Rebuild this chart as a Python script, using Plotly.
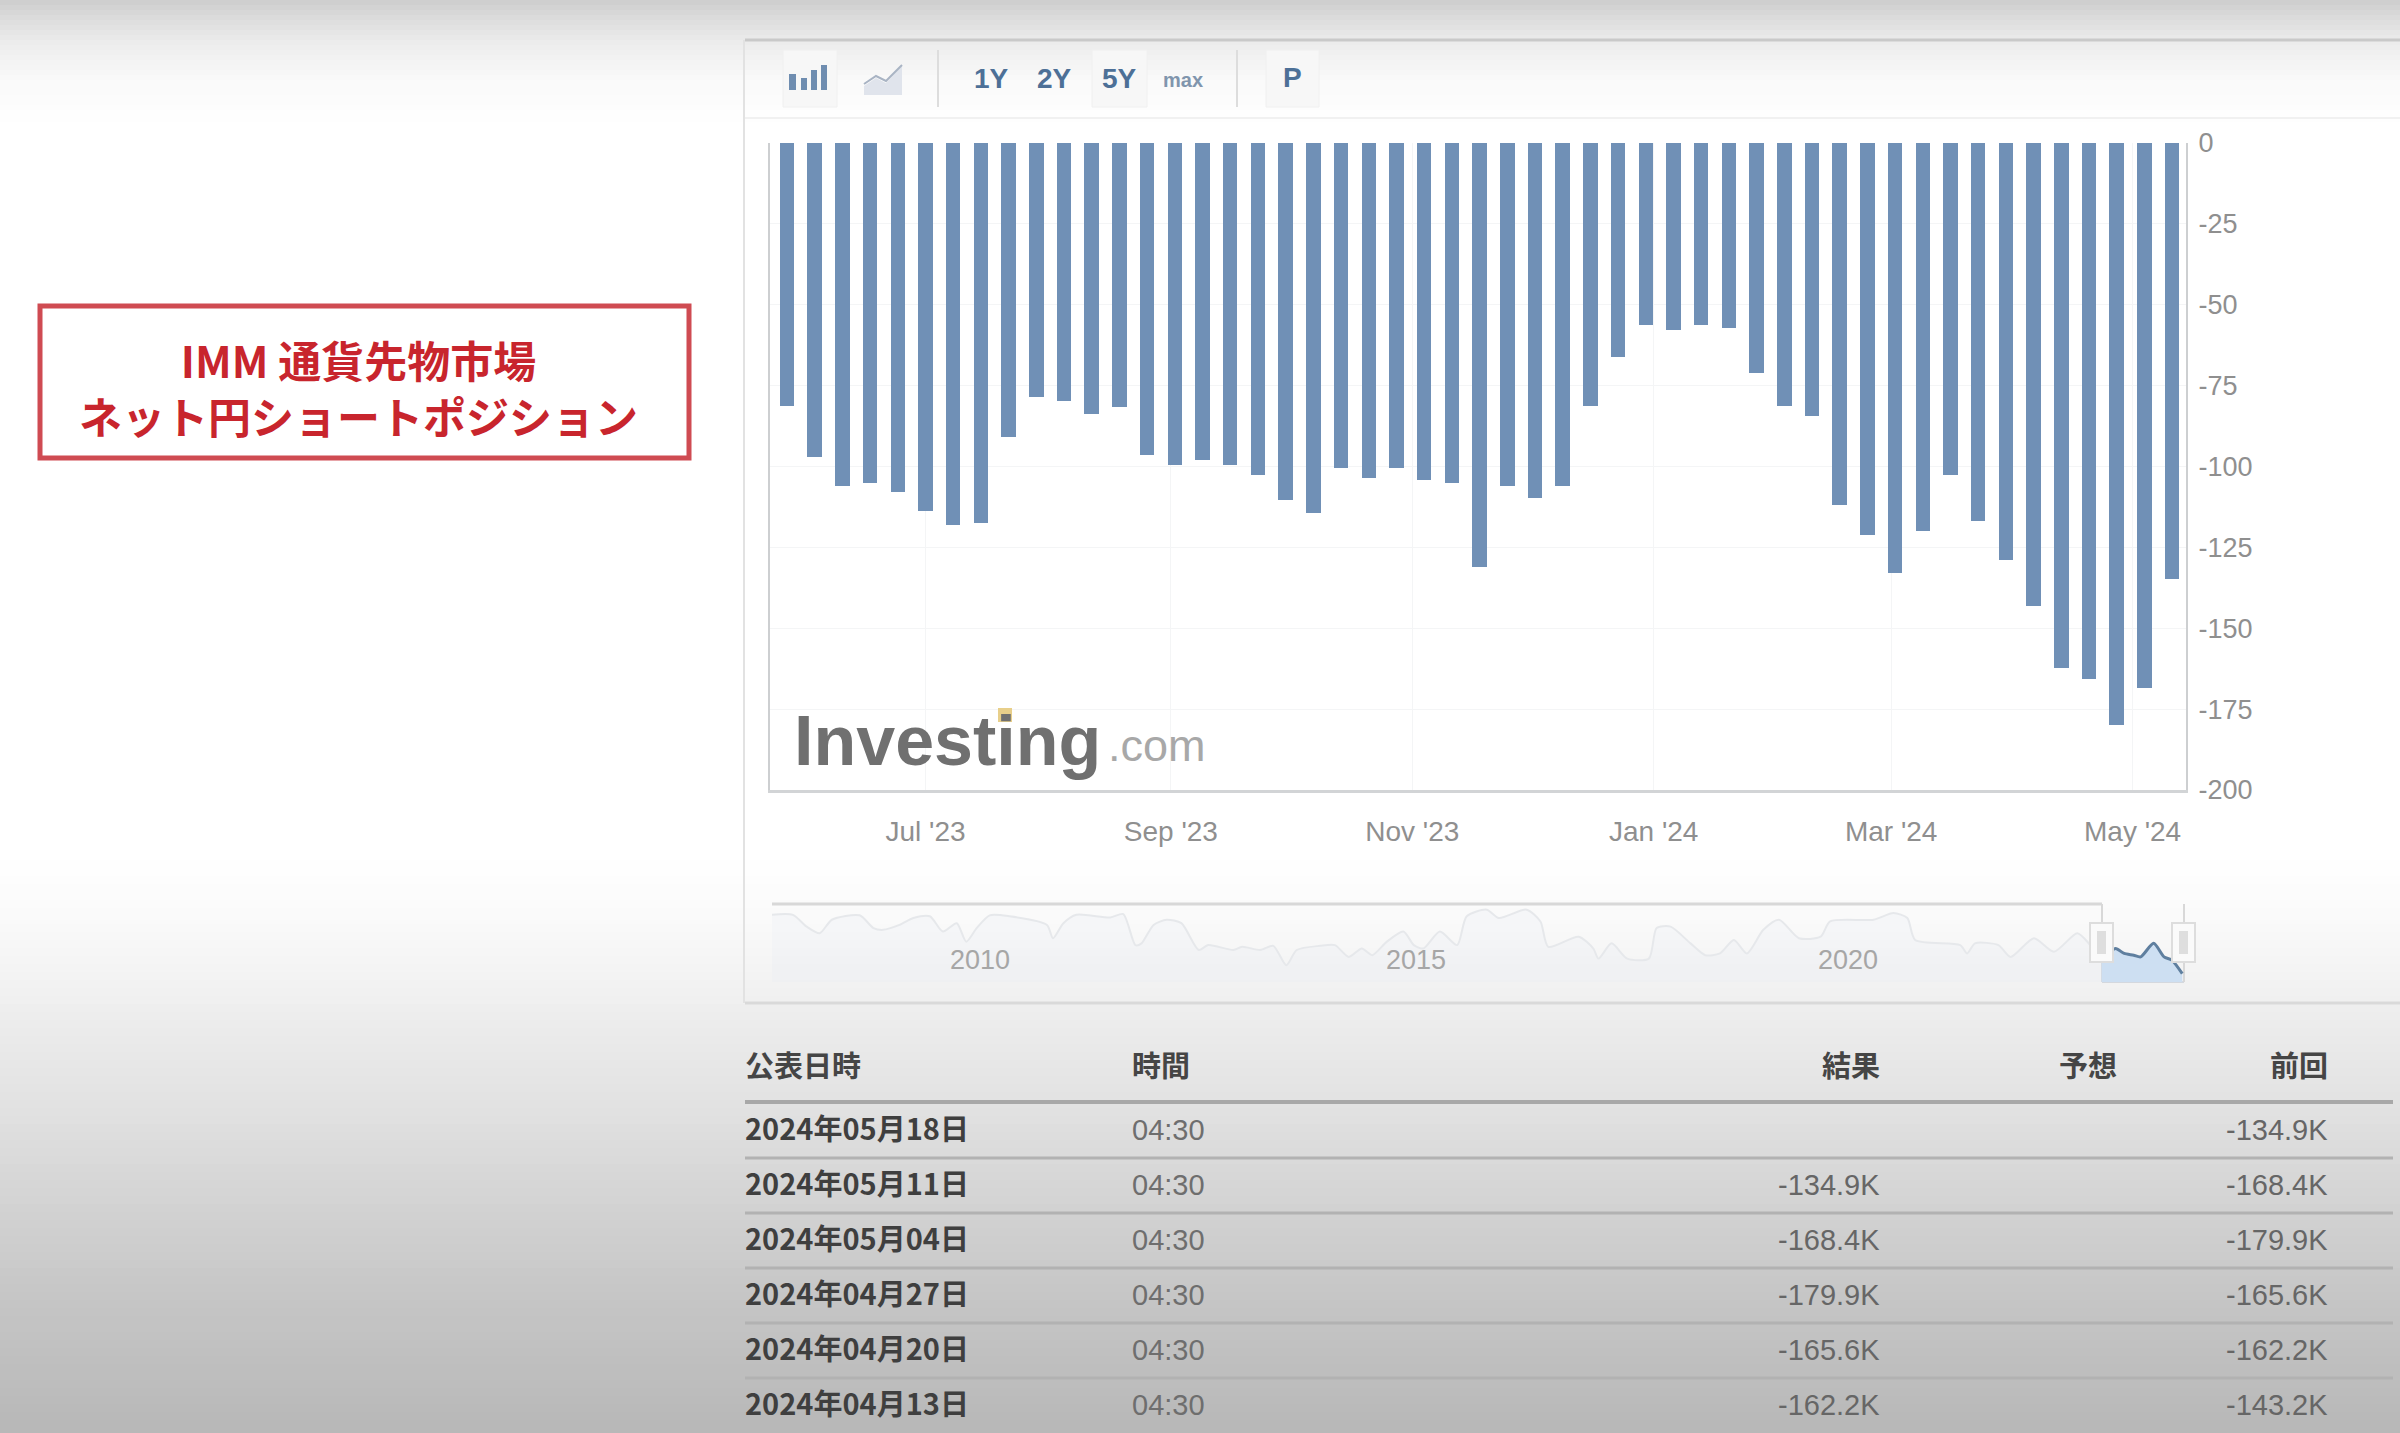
import numpy as np
import plotly.graph_objects as go

W, H = 2400, 1433

# ---------- data ----------
week_dates = [
    "2023-05-27", "2023-06-03", "2023-06-10", "2023-06-17", "2023-06-24", "2023-07-01", "2023-07-08",
    "2023-07-15", "2023-07-22", "2023-07-29", "2023-08-05", "2023-08-12", "2023-08-19", "2023-08-26",
    "2023-09-02", "2023-09-09", "2023-09-16", "2023-09-23", "2023-09-30", "2023-10-07", "2023-10-14",
    "2023-10-21", "2023-10-28", "2023-11-04", "2023-11-11", "2023-11-18", "2023-11-25", "2023-12-02",
    "2023-12-09", "2023-12-16", "2023-12-23", "2023-12-30", "2024-01-06", "2024-01-13", "2024-01-20",
    "2024-01-27", "2024-02-03", "2024-02-10", "2024-02-17", "2024-02-24", "2024-03-02", "2024-03-09",
    "2024-03-16", "2024-03-23", "2024-03-30", "2024-04-06", "2024-04-13", "2024-04-20", "2024-04-27",
    "2024-05-04", "2024-05-11",
]
net_yen_position = [
    -81.4, -97.1, -105.9, -105.0, -108.0, -113.6, -118.0, -117.5, -91.0, -78.4, -79.9, -83.7, -81.6,
    -96.4, -99.5, -98.0, -99.5, -102.6, -110.5, -114.5, -100.5, -103.6, -100.5, -104.3, -105.0, -131.0,
    -105.9, -109.8, -106.0, -81.2, -66.0, -56.4, -57.9, -56.4, -57.2, -71.1, -81.4, -84.5, -112.0,
    -121.3, -133.0, -119.8, -102.6, -116.7, -129.0, -143.2, -162.2, -165.6, -179.9, -168.4, -134.9,
]
y_ticks = [0, -25, -50, -75, -100, -125, -150, -175, -200]
y_tick_labels = ["0", "-25", "-50", "-75", "-100", "-125", "-150", "-175", "-200"]

nav_years = [
    2008.07, 2008.32, 2008.48, 2008.63, 2008.77, 2009.09, 2009.25, 2009.36, 2009.55, 2009.71, 2009.90,
    2010.05, 2010.21, 2010.32, 2010.44, 2010.59, 2010.82, 2011.25, 2011.32, 2011.44, 2011.59, 2011.98,
    2012.13, 2012.27, 2012.34, 2012.48, 2012.63, 2012.80, 2013.00, 2013.11, 2013.40, 2013.50, 2013.71,
    2013.86, 2014.01, 2014.13, 2014.40, 2014.57, 2014.73, 2014.88, 2015.00, 2015.17, 2015.36, 2015.48,
    2015.59, 2015.78, 2015.98, 2016.09, 2016.32, 2016.46, 2016.78, 2016.94, 2017.03, 2017.38, 2017.55,
    2017.61, 2017.76, 2017.94, 2018.19, 2018.28, 2018.44, 2018.67, 2018.84, 2019.01, 2019.17, 2019.32,
    2019.51, 2019.69, 2019.92, 2020.17, 2020.28, 2020.78, 2021.01, 2021.17, 2021.26, 2021.78, 2021.86,
    2021.95, 2022.22, 2022.36, 2022.63, 2022.86, 2023.13, 2023.28, 2023.41,
]
nav_values = [
    59, 59, 11, -16, 39, 57, 5, -2, 18, 46, 53,
    -9, 25, -50, 5, 57, 53, 18, -36, 25, 59, 48,
    62, -64, -57, 18, 39, 25, -84, -64, -84, -71, -84,
    -67, -146, -84, -67, -64, -112, -78, -105, -50, -9, -64,
    -78, -9, -64, 53, 80, 46, 80, 32, -71, -30, -78,
    -119, -57, -119, -119, 5, 11, -57, -105, -98, -43, -98,
    -2, 39, -36, -30, 32, 39, 66, 46, -43, -64, -98,
    -57, -64, -112, -36, -91, -16, -64, -119,
]
sel_years = [2023.41, 2023.57, 2023.67, 2023.78, 2023.86, 2024.01, 2024.13, 2024.22, 2024.34]
sel_values = [-119, -78, -98, -105, -112, -57, -112, -125, -180]
nav_labels = ["2010", "2015", "2020"]
nav_label_years = [2010.48, 2015.51, 2020.49]

table_headers = ["公表日時", "時間", "結果", "予想", "前回"]
table_dates = ["2024年05月18日", "2024年05月11日", "2024年05月04日", "2024年04月27日", "2024年04月20日", "2024年04月13日"]
table_times = ["04:30"] * 6
table_actual = ["", "-134.9K", "-168.4K", "-179.9K", "-165.6K", "-162.2K"]
table_previous = ["-134.9K", "-168.4K", "-179.9K", "-165.6K", "-162.2K", "-143.2K"]
range_buttons = ["1Y", "2Y", "5Y"]

title_text = "IMM 通貨先物市場<br>ネット円ショートポジション"

# ---------- helpers: page pixels to paper fractions ----------
def px(x):
    return x / W

def py(y):
    return 1 - y / H

shapes = []
annotations = []

def rect(x0, y0, x1, y1, fill=None, line=None, lw=0, layer="below"):
    shapes.append(dict(type="rect", xref="paper", yref="paper", x0=px(x0), x1=px(x1), y0=py(y0), y1=py(y1),
                       fillcolor=fill if fill else "rgba(0,0,0,0)",
                       line=dict(color=line if line else "rgba(0,0,0,0)", width=lw), layer=layer))

def seg(x0, y0, x1, y1, color, lw, layer="below"):
    shapes.append(dict(type="line", xref="paper", yref="paper", x0=px(x0), x1=px(x1), y0=py(y0), y1=py(y1),
                       line=dict(color=color, width=lw), layer=layer))

def poly(points, fill=None, line=None, lw=0, layer="below"):
    d = "M " + " L ".join(f"{px(a):.5f},{py(b):.5f}" for a, b in points)
    if fill:
        d += " Z"
    shapes.append(dict(type="path", xref="paper", yref="paper", path=d,
                       fillcolor=fill if fill else "rgba(0,0,0,0)",
                       line=dict(color=line if line else "rgba(0,0,0,0)", width=lw), layer=layer))

def text(s, x, y, size, color, family="Liberation Sans", anchor="center", vanchor="middle", bold=False):
    annotations.append(dict(text=f"<b>{s}</b>" if bold else s, xref="paper", yref="paper", x=px(x), y=py(y),
                            xanchor=anchor, yanchor=vanchor, showarrow=False,
                            font=dict(family=family, size=size, color=color)))

# ---------- page background: video-like vignette (bands overlap so no seams show) ----------
stops_y = [0, 20, 45, 80, 120, 860, 920, 1000, 1100, 1200, 1300, 1433]
stops_g = [205, 222, 238, 250, 255, 255, 250, 240, 227, 212, 198, 184]
edges = list(range(0, 120, 5)) + [120] + list(range(860, H, 8)) + [H]
for a, b in zip(edges[:-1], edges[1:]):
    if a == 120:
        continue
    g = int(np.interp((a + b) / 2, stops_y, stops_g))
    rect(0, a, W, H if a >= 860 else b + 2, fill=f"rgb({g},{g},{g})")

# ---------- panel frame and toolbar ----------
seg(745, 40, W, 40, "#c9c9c9", 3)
seg(744, 40, 744, 1003, "#e2e2e2", 2)
seg(745, 1003, W, 1003, "#d9d9d9", 3)
seg(745, 118, W, 118, "#f1f1f1", 2)
for bx0, bx1 in [(783, 837), (1092, 1147), (1266, 1319)]:
    rect(bx0, 50, bx1, 107, fill="#f7f7f7", line="#f0f0f0", lw=1)
seg(938, 50, 938, 107, "#dddddd", 2)
seg(1237, 50, 1237, 107, "#dddddd", 2)

for ix0, ix1, top in [(789, 796, 74), (801, 807, 78), (811, 817, 70), (821, 827, 65)]:
    rect(ix0, top, ix1, 90, fill="#6f8db0")
poly([(864, 86), (876, 78), (886, 83), (902, 66), (902, 95), (864, 95)], fill="#e0e4ec")
poly([(864, 84), (876, 76), (886, 81), (902, 65)], line="#a9b4c4", lw=2)

for label, cx in zip(range_buttons, [991, 1054, 1119]):
    text(label, cx, 78, 28, "#4d7097", bold=True)
text("max", 1183, 80, 20, "#8095ad", bold=True)
text("P", 1292, 77, 28, "#4d7097", bold=True)

# ---------- title box ----------
rect(40, 306, 689, 458, fill="#ffffff", line="#cf4b52", lw=5)
text(title_text, 358, 387, 43, "#c8252d", family="Noto Sans CJK JP", bold=True)

# ---------- watermark ----------
text("Investing", 792, 741, 70, "#707070", anchor="left", vanchor="middle", bold=True)
text(".com", 1106, 745, 45, "#a8a8a8", anchor="left", vanchor="middle")

# ---------- navigator frame ----------
NAV_L, NAV_R, NAV_T, NAV_B, SEL_L = 772, 2184, 904, 982, 2102
seg(NAV_L, NAV_T, SEL_L, NAV_T, "#d8d8d8", 3)
seg(SEL_L, NAV_T, SEL_L, NAV_B, "#d8d8d8", 2)
seg(SEL_L, NAV_B, NAV_R, NAV_B, "#d4d8de", 2)
seg(NAV_R, NAV_T, NAV_R, NAV_B, "#d8d8d8", 2)
for hx in [SEL_L, NAV_R]:
    rect(hx - 12, 923, hx + 11, 962, fill="#fafafa", line="#dddddd", lw=2, layer="above")
    rect(hx - 5, 931, hx + 4, 954, fill="#dedede", layer="above")

# ---------- table ----------
COL_DATE, COL_TIME, COL_ACTUAL, COL_FORECAST, COL_PREV = 743, 1130, 1882, 2119, 2330
row_y = [1130, 1185, 1240, 1295, 1350, 1405]
rule_y = [1158, 1213, 1268, 1323, 1378]
TC = "Noto Sans CJK JP"
CJK_UP = 3
text(table_headers[0], COL_DATE, 1067 - CJK_UP, 29, "#454545", family=TC, anchor="left", bold=True)
text(table_headers[1], COL_TIME, 1067 - CJK_UP, 29, "#454545", family=TC, anchor="left", bold=True)
text(table_headers[2], COL_ACTUAL, 1067 - CJK_UP, 29, "#454545", family=TC, anchor="right", bold=True)
text(table_headers[3], COL_FORECAST, 1067 - CJK_UP, 29, "#454545", family=TC, anchor="right", bold=True)
text(table_headers[4], COL_PREV, 1067 - CJK_UP, 29, "#454545", family=TC, anchor="right", bold=True)
seg(745, 1102, 2393, 1102, "#a8a8a8", 4)
for yr in rule_y:
    seg(745, yr, 2393, yr, "#b2b2b2", 3)
for y, d, t, a, p in zip(row_y, table_dates, table_times, table_actual, table_previous):
    text(d, COL_DATE, y - CJK_UP, 29, "#3f3f3f", family=TC, anchor="left", bold=True)
    text(t, COL_TIME, y, 29, "#6e6e6e", anchor="left")
    if a:
        text(a, COL_ACTUAL, y, 29, "#666666", anchor="right")
    text(p, COL_PREV, y, 29, "#666666", anchor="right")

# ---------- figure ----------
fig = go.Figure()
fig.add_bar(x=week_dates, y=net_yen_position, width=3.165e8, marker=dict(color="#7090b6", line=dict(width=0)),
            hoverinfo="skip", showlegend=False)

NAV_FLOOR = -214
all_years = nav_years + sel_years[:1]
all_values = nav_values + sel_values[:1]
fig.add_scatter(x=[all_years[0], all_years[-1]], y=[NAV_FLOOR, NAV_FLOOR], mode="lines", xaxis="x2", yaxis="y2",
                line=dict(width=0), hoverinfo="skip", showlegend=False)
fig.add_scatter(x=all_years, y=all_values, mode="lines", xaxis="x2", yaxis="y2",
                line=dict(color="#e6e8eb", width=2, shape="spline", smoothing=0.7), fill="tonexty",
                fillcolor="rgba(225,232,242,0.16)", hoverinfo="skip", showlegend=False)
fig.add_scatter(x=[sel_years[0], sel_years[-1]], y=[NAV_FLOOR, NAV_FLOOR], mode="lines", xaxis="x2", yaxis="y2",
                line=dict(width=0), hoverinfo="skip", showlegend=False)
fig.add_scatter(x=sel_years, y=sel_values, mode="lines", xaxis="x2", yaxis="y2",
                line=dict(color="#5f7f9f", width=3, shape="spline", smoothing=0.7), fill="tonexty",
                fillcolor="#cddff2", hoverinfo="skip", showlegend=False)

for lab, yr in zip(nav_labels, nav_label_years):
    annotations.append(dict(text=lab, xref="x2", yref="paper", x=yr, y=py(960), showarrow=False,
                            xanchor="center", yanchor="middle",
                            font=dict(family="Liberation Sans", size=27, color="#a6a6a6")))

x_font = dict(family="Liberation Sans", size=28, color="#8f8f8f")
y_font = dict(family="Liberation Sans", size=27, color="#8f8f8f")
fig.update_layout(
    width=W, height=H, autosize=False,
    margin=dict(l=0, r=0, t=0, b=0, autoexpand=False),
    paper_bgcolor="#ffffff", plot_bgcolor="rgba(0,0,0,0)",
    bargap=0, showlegend=False, hovermode=False,
    xaxis=dict(domain=[px(770), px(2186)], type="date",
               range=["2023-05-22 17:00", "2024-05-14 12:00"],
               tick0="2023-07-01", dtick="M2", tickformat="%b '%y",
               tickfont=x_font, ticks="", ticklabelstandoff=14,
               showgrid=True, gridcolor="#f4f5f6", gridwidth=1,
               showline=True, linecolor="#d2d4d6", linewidth=3, mirror=False, zeroline=False,
               anchor="y"),
    yaxis=dict(domain=[py(790), py(143)], range=[-200, 0], side="right",
               tickvals=y_ticks, ticktext=y_tick_labels, tickfont=y_font, ticks="", ticklabelstandoff=5,
               showgrid=True, gridcolor="#f4f5f6", gridwidth=1,
               showline=True, linecolor="#cdcfd1", linewidth=2, mirror=True, zeroline=False,
               anchor="x"),
    xaxis2=dict(domain=[px(NAV_L), px(NAV_R)], range=[2008.08, 2024.36], visible=False, anchor="y2"),
    yaxis2=dict(domain=[py(NAV_B), py(NAV_T)], range=[NAV_FLOOR, 103], visible=False, anchor="x2"),
    shapes=shapes, annotations=annotations,
)

fig.add_shape(type="rect", xref="paper", yref="paper", x0=px(998), x1=px(1012), y0=py(722), y1=py(708),
              fillcolor="#e8cf8a", line=dict(width=0), layer="above")

fig.write_html("out.html", config=dict(displayModeBar=False),
               post_script="document.body.style.margin='0';document.body.style.overflow='hidden';")
